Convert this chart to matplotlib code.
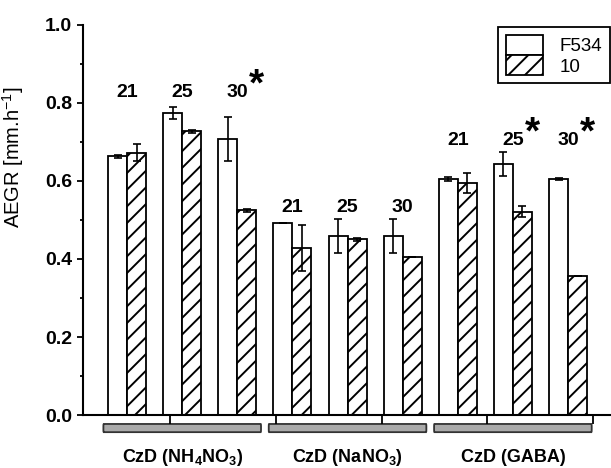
import numpy as np
import matplotlib
matplotlib.use("Agg")
import matplotlib.pyplot as plt
from matplotlib.patches import FancyBboxPatch, Patch
import matplotlib.transforms as mtransforms

plt.rcParams['font.family'] = ['Liberation Sans', 'DejaVu Sans']
plt.rcParams['mathtext.fontset'] = 'custom'
plt.rcParams['mathtext.rm'] = 'Liberation Sans'
plt.rcParams['mathtext.bf'] = 'Liberation Sans:bold'
plt.rcParams['hatch.linewidth'] = 1.4

groups = ["CzD (NH$_\\mathbf{4}$NO$_\\mathbf{3}$)", "CzD (NaNO$_\\mathbf{3}$)", "CzD (GABA)"]
temps = ["21", "25", "30", "21", "25", "30", "21", "25", "30"]
stars = [False, False, True, False, False, False, False, True, True]
f534 = [0.663, 0.775, 0.708, 0.492, 0.459, 0.459, 0.605, 0.644, 0.605]
f534_err = [0.003, 0.016, 0.056, 0.0, 0.044, 0.044, 0.004, 0.030, 0.003]
s10 = [0.672, 0.727, 0.525, 0.428, 0.450, 0.405, 0.595, 0.521, 0.356]
s10_err = [0.022, 0.005, 0.004, 0.058, 0.005, 0.0, 0.025, 0.014, 0.0]
label_y = [0.826, 0.531, 0.703]
legend_labels = ["F534", "10"]

x = np.arange(1, len(temps) + 1)
w = 0.345

fig = plt.figure(figsize=(6.11, 4.68), dpi=100)
ax = fig.add_axes([83/611, 1 - 415/468, 1 - 83/611, 390/468])

ax.bar(x - w/2, f534, w, color='white', edgecolor='black', linewidth=1.3, zorder=2)
ax.bar(x + w/2, s10, w, color='white', edgecolor='black', linewidth=1.3, hatch='//', zorder=2)
ax.errorbar(x - w/2, f534, yerr=f534_err, fmt='none', ecolor='black', elinewidth=1.2,
            capsize=3, capthick=1.2, zorder=3)
ax.errorbar(x + w/2, s10, yerr=s10_err, fmt='none', ecolor='black', elinewidth=1.2,
            capsize=3, capthick=1.2, zorder=3)

# temperature labels above each pair
for i, t in enumerate(temps):
    yy = label_y[i // 3]
    ax.text(x[i], yy, t, ha='center', va='center', fontsize=14, fontweight='bold')
    if stars[i]:
        ax.annotate("*", (x[i], yy), xytext=(14, 5.5), textcoords='offset points',
                    ha='center', va='center', fontsize=28, fontweight='bold')

ax.set_xlim(0.2, 9.78)
ax.set_ylim(0, 1.0)
ax.spines['top'].set_visible(False)
ax.spines['right'].set_visible(False)
ax.spines['left'].set_linewidth(1.5)
ax.spines['bottom'].set_linewidth(1.5)

ax.set_yticks([0.0, 0.2, 0.4, 0.6, 0.8, 1.0])
ax.set_yticks(np.arange(0.1, 1.0, 0.2), minor=True)
ax.set_yticklabels(["0.0", "0.2", "0.4", "0.6", "0.8", "1.0"], fontsize=14, fontweight='bold')
ax.tick_params(axis='y', which='major', direction='out', length=4, width=1.3, pad=4)
ax.tick_params(axis='y', which='minor', direction='out', length=2.5, width=1.3)
ax.set_xticks([1.78, 3.70, 5.63, 7.53, 9.46])
ax.set_xticklabels([])
ax.tick_params(axis='x', which='major', direction='out', length=6.5, width=1.3)
ax.set_ylabel("AEGR [mm.h$^{-1}$]", fontsize=14.5)
ax.yaxis.set_label_coords(-0.108, 0.66)

# grey group bars and group labels below the axis
trans = mtransforms.blended_transform_factory(ax.transData, ax.transAxes)
for g, name in enumerate(groups):
    c = x[3*g:3*g+3].mean()
    box = FancyBboxPatch((c - 1.43, -0.044), 2.86, 0.021,
                         boxstyle="round,pad=0,rounding_size=0.006",
                         transform=trans, clip_on=False,
                         facecolor='#aaaaaa', edgecolor='#333333', linewidth=1.3)
    ax.add_patch(box)
    ax.text(c, -0.11, name, transform=trans, ha='center', va='center',
            fontsize=13, fontweight='bold')

handles = [Patch(facecolor='white', edgecolor='black', linewidth=1.3),
           Patch(facecolor='white', edgecolor='black', linewidth=1.3, hatch='//')]
leg = fig.legend(handles, legend_labels, loc='upper right',
                 bbox_to_anchor=(610/611, 1 - 27/468), borderaxespad=0, fontsize=13.5,
                 handlelength=2.0, handleheight=1.3, labelspacing=0.0,
                 handletextpad=0.9, borderpad=0.4, fancybox=False,
                 edgecolor='black', framealpha=1)
leg.get_frame().set_linewidth(1.3)

fig.savefig("out.png", dpi=100)
